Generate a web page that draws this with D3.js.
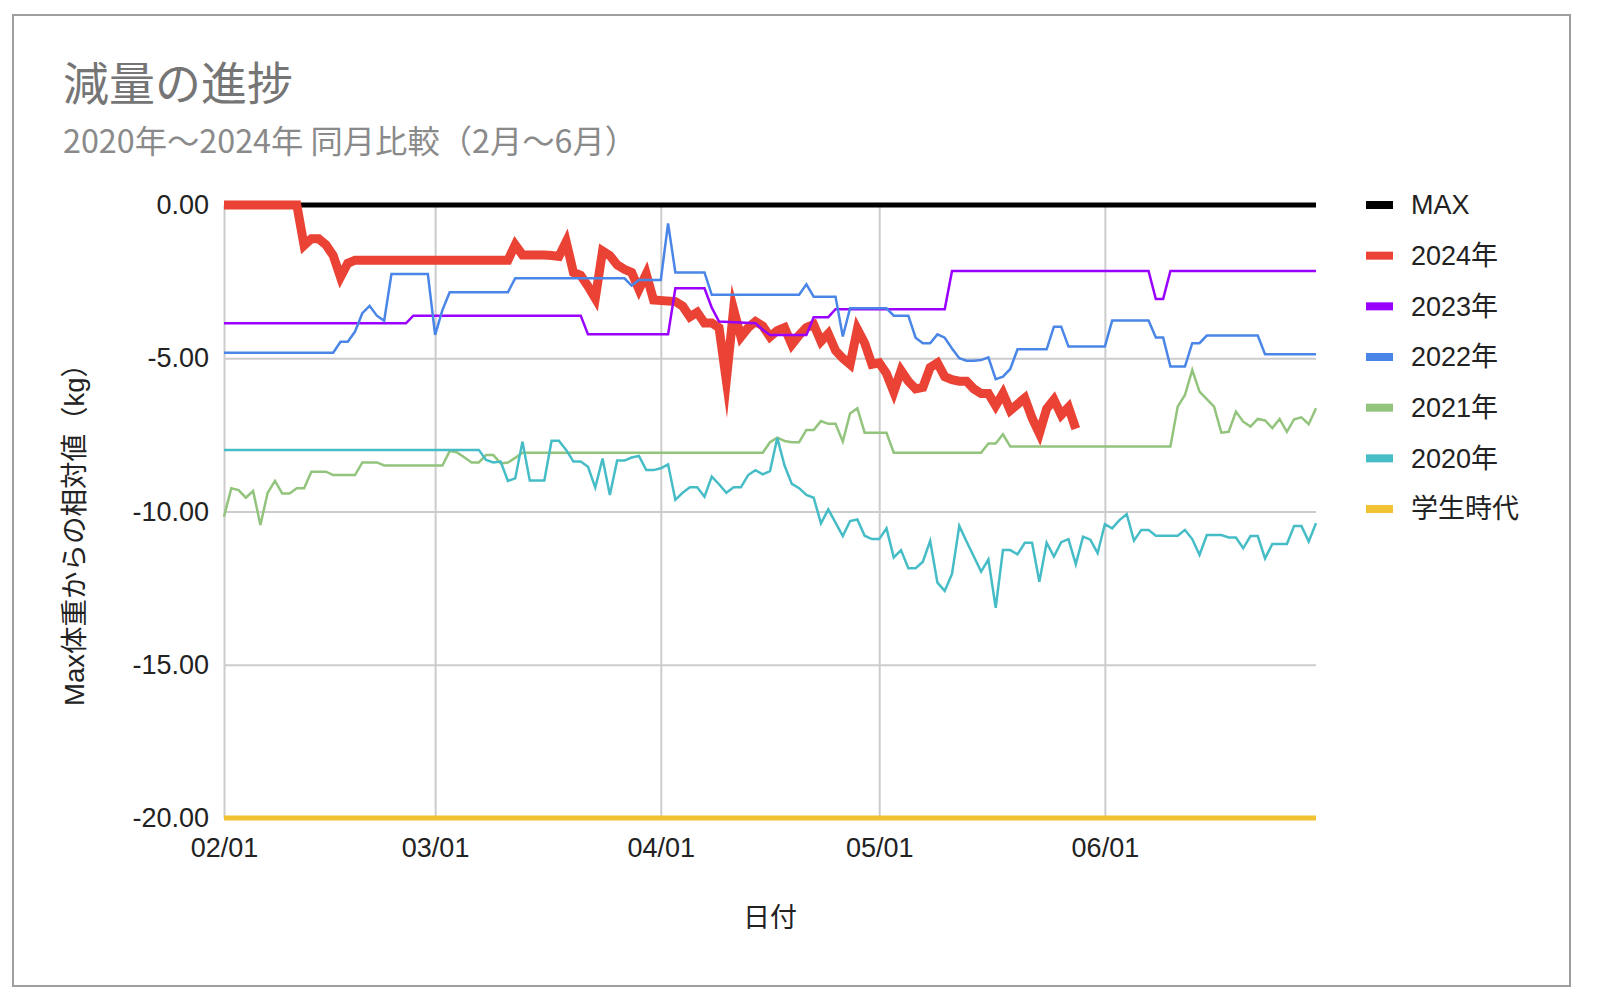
<!DOCTYPE html>
<html>
<head>
<meta charset="utf-8">
<script src="https://cdn.jsdelivr.net/npm/d3@7"></script>
<style>
    body { margin: 0; background: #ffffff; }
    svg text { font-family: "Liberation Sans", "Noto Sans CJK JP", sans-serif; }
</style>
</head>
<body>
<div id="chart-location"></div>
<script>
var titleText = "減量の進捗";
var subtitleText = "2020年～2024年 同月比較（2月～6月）";
var xTitle = "日付";
var yTitle = "Max体重からの相対値（kg）";

var dateRange = ["02/01", "06/30"];
var xTickLabels = ["02/01", "03/01", "04/01", "05/01", "06/01"];
var yTicks = [0, -5, -10, -15, -20];

var seriesNames = ["MAX", "2024年", "2023年", "2022年", "2021年", "2020年", "学生時代"];

var valuesMax = [["02/01", 0], ["06/30", 0]];

var values2024 = [
    ["02/01", 0], ["02/11", 0], ["02/12", -1.32], ["02/13", -1.1], ["02/14", -1.1], ["02/15", -1.3],
    ["02/16", -1.65], ["02/17", -2.35], ["02/18", -1.9], ["02/19", -1.8], ["03/11", -1.8], ["03/12", -1.3],
    ["03/13", -1.63], ["03/16", -1.63], ["03/17", -1.65], ["03/18", -1.68], ["03/19", -1.2], ["03/20", -2.2],
    ["03/21", -2.3], ["03/22", -2.65], ["03/23", -3.05], ["03/24", -1.5], ["03/25", -1.65], ["03/26", -1.95],
    ["03/27", -2.1], ["03/28", -2.2], ["03/29", -2.75], ["03/30", -2.25], ["03/31", -3.1], ["04/03", -3.15],
    ["04/04", -3.3], ["04/05", -3.65], ["04/06", -3.5], ["04/07", -3.85], ["04/08", -3.85], ["04/09", -4.0],
    ["04/10", -5.72], ["04/11", -3.4], ["04/12", -4.3], ["04/13", -4.0], ["04/14", -3.8], ["04/15", -3.95],
    ["04/16", -4.3], ["04/17", -4.1], ["04/18", -4.0], ["04/19", -4.55], ["04/20", -4.25], ["04/21", -4.0],
    ["04/22", -3.9], ["04/23", -4.45], ["04/24", -4.2], ["04/25", -4.75], ["04/26", -5.0], ["04/27", -5.2],
    ["04/28", -4.05], ["04/29", -4.5], ["04/30", -5.2], ["05/01", -5.15], ["05/02", -5.5], ["05/03", -6.1],
    ["05/04", -5.4], ["05/05", -5.75], ["05/06", -6.0], ["05/07", -5.95], ["05/08", -5.3], ["05/09", -5.15],
    ["05/10", -5.6], ["05/11", -5.7], ["05/12", -5.75], ["05/13", -5.75], ["05/14", -6.0], ["05/15", -6.15],
    ["05/16", -6.15], ["05/17", -6.55], ["05/18", -6.15], ["05/19", -6.7], ["05/20", -6.5], ["05/21", -6.3],
    ["05/22", -6.95], ["05/23", -7.45], ["05/24", -6.65], ["05/25", -6.35], ["05/26", -6.85], ["05/27", -6.6],
    ["05/28", -7.3]
];

var values2023 = [
    ["02/01", -3.86], ["02/26", -3.86], ["02/27", -3.61], ["03/21", -3.61], ["03/22", -4.22], ["04/02", -4.22],
    ["04/03", -2.72], ["04/07", -2.72], ["04/08", -3.35], ["04/09", -3.8], ["04/14", -3.86], ["04/15", -4.07],
    ["04/16", -4.24], ["04/21", -4.24], ["04/22", -3.66], ["04/24", -3.66], ["04/25", -3.4], ["05/10", -3.4],
    ["05/11", -2.15], ["06/07", -2.15], ["06/08", -3.07], ["06/09", -3.07], ["06/10", -2.15], ["06/30", -2.15]
];

var values2022 = [
    ["02/01", -4.82], ["02/16", -4.82], ["02/17", -4.46], ["02/18", -4.46], ["02/19", -4.13], ["02/20", -3.53],
    ["02/21", -3.29], ["02/22", -3.61], ["02/23", -3.78], ["02/24", -2.25], ["02/29", -2.25], ["03/01", -4.24],
    ["03/02", -3.43], ["03/03", -2.85], ["03/11", -2.85], ["03/12", -2.39], ["03/27", -2.39], ["03/28", -2.63],
    ["03/29", -2.45], ["04/01", -2.45], ["04/02", -0.6], ["04/03", -2.2], ["04/07", -2.2], ["04/08", -2.93],
    ["04/20", -2.93], ["04/21", -2.59], ["04/22", -2.99], ["04/25", -2.99], ["04/26", -4.29], ["04/27", -3.37],
    ["05/02", -3.37], ["05/03", -3.61], ["05/05", -3.61], ["05/06", -4.33], ["05/07", -4.51], ["05/08", -4.51],
    ["05/09", -4.22], ["05/10", -4.33], ["05/11", -4.68], ["05/12", -5.0], ["05/13", -5.08], ["05/14", -5.08],
    ["05/15", -5.06], ["05/16", -4.97], ["05/17", -5.68], ["05/18", -5.6], ["05/19", -5.35], ["05/20", -4.71],
    ["05/24", -4.71], ["05/25", -3.97], ["05/26", -3.97], ["05/27", -4.62], ["06/01", -4.62], ["06/02", -3.77],
    ["06/07", -3.77], ["06/08", -4.32], ["06/09", -4.32], ["06/10", -5.27], ["06/12", -5.27], ["06/13", -4.51],
    ["06/14", -4.51], ["06/15", -4.26], ["06/22", -4.26], ["06/23", -4.87], ["06/30", -4.87]
];

var values2021 = [
    ["02/01", -10.17], ["02/02", -9.24], ["02/03", -9.3], ["02/04", -9.55], ["02/05", -9.33], ["02/06", -10.44],
    ["02/07", -9.39], ["02/08", -9.0], ["02/09", -9.41], ["02/10", -9.41], ["02/11", -9.24], ["02/12", -9.24],
    ["02/13", -8.7], ["02/15", -8.7], ["02/16", -8.81], ["02/19", -8.81], ["02/20", -8.4], ["02/22", -8.4],
    ["02/23", -8.5], ["03/02", -8.5], ["03/03", -8.03], ["03/04", -8.07], ["03/05", -8.23], ["03/06", -8.4],
    ["03/07", -8.4], ["03/08", -8.16], ["03/09", -8.16], ["03/10", -8.43], ["03/11", -8.4], ["03/12", -8.25],
    ["03/13", -8.08], ["04/15", -8.08], ["04/16", -7.74], ["04/17", -7.59], ["04/18", -7.7], ["04/19", -7.74],
    ["04/20", -7.74], ["04/21", -7.34], ["04/22", -7.34], ["04/23", -7.05], ["04/24", -7.14], ["04/25", -7.14],
    ["04/26", -7.72], ["04/27", -6.8], ["04/28", -6.63], ["04/29", -7.43], ["05/02", -7.43], ["05/03", -8.08],
    ["05/15", -8.08], ["05/16", -7.78], ["05/17", -7.78], ["05/18", -7.48], ["05/19", -7.88], ["06/10", -7.88],
    ["06/11", -6.58], ["06/12", -6.2], ["06/13", -5.38], ["06/14", -6.09], ["06/15", -6.33], ["06/16", -6.58],
    ["06/17", -7.43], ["06/18", -7.4], ["06/19", -6.74], ["06/20", -7.07], ["06/21", -7.23], ["06/22", -6.98],
    ["06/23", -7.03], ["06/24", -7.28], ["06/25", -6.98], ["06/26", -7.4], ["06/27", -6.99], ["06/28", -6.93],
    ["06/29", -7.15], ["06/30", -6.63]
];

var values2020 = [
    ["02/01", -7.99], ["03/07", -7.99], ["03/08", -8.32], ["03/09", -8.4], ["03/10", -8.37], ["03/11", -9.0],
    ["03/12", -8.92], ["03/13", -7.72], ["03/14", -8.99], ["03/16", -8.99], ["03/17", -7.69], ["03/18", -7.69],
    ["03/19", -7.99], ["03/20", -8.37], ["03/21", -8.37], ["03/22", -8.54], ["03/23", -9.22], ["03/24", -8.27],
    ["03/25", -9.46], ["03/26", -8.34], ["03/27", -8.34], ["03/28", -8.24], ["03/29", -8.19], ["03/30", -8.65],
    ["03/31", -8.65], ["04/01", -8.59], ["04/02", -8.46], ["04/03", -9.62], ["04/04", -9.39], ["04/05", -9.21],
    ["04/06", -9.21], ["04/07", -9.52], ["04/08", -8.86], ["04/09", -9.11], ["04/10", -9.39], ["04/11", -9.21],
    ["04/12", -9.21], ["04/13", -8.81], ["04/14", -8.65], ["04/15", -8.79], ["04/16", -8.68], ["04/17", -7.6],
    ["04/18", -8.5], ["04/19", -9.1], ["04/20", -9.24], ["04/21", -9.46], ["04/22", -9.55], ["04/23", -10.39],
    ["04/24", -9.93], ["04/25", -10.36], ["04/26", -10.8], ["04/27", -10.31], ["04/28", -10.26], ["04/29", -10.79],
    ["04/30", -10.9], ["05/01", -10.9], ["05/02", -10.55], ["05/03", -11.5], ["05/04", -11.26], ["05/05", -11.85],
    ["05/06", -11.85], ["05/07", -11.64], ["05/08", -10.96], ["05/09", -12.32], ["05/10", -12.59], ["05/11", -12.04],
    ["05/12", -10.47], ["05/13", -10.98], ["05/14", -11.47], ["05/15", -11.96], ["05/16", -11.56], ["05/17", -13.14],
    ["05/18", -11.26], ["05/19", -11.26], ["05/20", -11.4], ["05/21", -11.02], ["05/22", -11.02], ["05/23", -12.29],
    ["05/24", -11.02], ["05/25", -11.47], ["05/26", -11.0], ["05/27", -10.9], ["05/28", -11.72], ["05/29", -10.82],
    ["05/30", -10.92], ["05/31", -11.36], ["06/01", -10.41], ["06/02", -10.55], ["06/03", -10.28], ["06/04", -10.09],
    ["06/05", -10.95], ["06/06", -10.6], ["06/07", -10.6], ["06/08", -10.79], ["06/11", -10.79], ["06/12", -10.6],
    ["06/13", -10.9], ["06/14", -11.42], ["06/15", -10.77], ["06/17", -10.77], ["06/18", -10.85], ["06/19", -10.85],
    ["06/20", -11.2], ["06/21", -10.8], ["06/22", -10.8], ["06/23", -11.53], ["06/24", -11.06], ["06/26", -11.06],
    ["06/27", -10.47], ["06/28", -10.47], ["06/29", -10.98], ["06/30", -10.38]
];

var valuesStudent = [["02/01", -20], ["06/30", -20]];

function init () {

    // (VARIABLES) svg size and plot area
    var w = 1598;
    var h = 1002;
    var plotLeft = 224;
    var plotRight = 1316;
    var plotTop = 205;
    var plotBottom = 818;
    var fontSize = 27;
    var textColor = "#222222";
    var gridColor = "#cccccc";

    // series styles, same order as seriesNames
    var seriesData = [valuesMax, values2024, values2023, values2022, values2021, values2020, valuesStudent];
    var seriesColors = ["#000000", "#ea4335", "#9900ff", "#4a86e8", "#93c47d", "#46bdc6", "#f1c232"];
    var seriesWidths = [5, 9, 2.5, 2.5, 2.5, 2.5, 5];
    // the thick 2024 line keeps its sharp pointed spikes
    var seriesMiter = [4, 12, 4, 4, 4, 4, 4];

    var parseDay = d3.timeParse("%Y/%m/%d");
    function toDate(s) {
        return parseDay("2024/" + s);
    }

    // (SCALES)
    var xScale = d3.scaleTime()
        .domain(dateRange.map(toDate))
        .range([plotLeft, plotRight]);

    var yScale = d3.scaleLinear()
        .domain([-20, 0])
        .range([plotBottom, plotTop]);

    // (SVG CANVAS)
    var svg = d3.select("#chart-location")
        .append("svg")
        .attr("width", w)
        .attr("height", h);

    // outer frame of the chart
    svg.append("rect")
        .attr("x", 13)
        .attr("y", 15)
        .attr("width", 1557)
        .attr("height", 971)
        .attr("fill", "#ffffff")
        .attr("stroke", "#9e9e9e")
        .attr("stroke-width", 2);

    // (TITLES)
    svg.append("text")
        .attr("x", 63)
        .attr("y", 100)
        .attr("font-size", 46)
        .attr("fill", "#757575")
        .style("font-family", "'Noto Sans CJK JP', sans-serif")
        .text(titleText);

    svg.append("text")
        .attr("x", 63)
        .attr("y", 153)
        .attr("font-size", 32.3)
        .attr("fill", "#8a8a8a")
        .style("font-family", "'Noto Sans CJK JP', sans-serif")
        .text(subtitleText);

    // (GRID) vertical lines at month starts
    var xGrid = d3.axisBottom(xScale)
        .tickValues(xTickLabels.map(toDate))
        .tickSize(-(plotBottom - plotTop))
        .tickFormat("");
    var xGridG = svg.append("g")
        .attr("transform", "translate(0," + plotBottom + ")")
        .call(xGrid);
    xGridG.select(".domain").remove();
    xGridG.selectAll("line").attr("stroke", gridColor).attr("stroke-width", 2);

    // (GRID) horizontal lines
    var yGrid = d3.axisLeft(yScale)
        .tickValues(yTicks)
        .tickSize(-(plotRight - plotLeft))
        .tickFormat("");
    var yGridG = svg.append("g")
        .attr("transform", "translate(" + plotLeft + ",0)")
        .call(yGrid);
    yGridG.select(".domain").remove();
    yGridG.selectAll("line").attr("stroke", gridColor).attr("stroke-width", 2);

    // (X-AXIS) labels only
    var xAxis = d3.axisBottom(xScale)
        .tickValues(xTickLabels.map(toDate))
        .tickSize(0)
        .tickPadding(20)
        .tickFormat(d3.timeFormat("%m/%d"));
    var xAxisG = svg.append("g")
        .attr("transform", "translate(0," + plotBottom + ")")
        .call(xAxis);
    xAxisG.select(".domain").remove();
    xAxisG.attr("font-family", null).attr("font-size", fontSize);
    xAxisG.selectAll("text").attr("fill", textColor);

    // (Y-AXIS) labels only, plain hyphen for the minus sign
    var yAxis = d3.axisLeft(yScale)
        .tickValues(yTicks)
        .tickSize(0)
        .tickPadding(15)
        .tickFormat(function(d) { return d.toFixed(2); });
    var yAxisG = svg.append("g")
        .attr("transform", "translate(" + plotLeft + ",0)")
        .call(yAxis);
    yAxisG.select(".domain").remove();
    yAxisG.attr("font-family", null).attr("font-size", fontSize);
    yAxisG.selectAll("text").attr("fill", textColor);

    // (AXIS TITLES)
    svg.append("text")
        .attr("x", (plotLeft + plotRight) / 2)
        .attr("y", 927)
        .attr("text-anchor", "middle")
        .attr("font-size", fontSize)
        .attr("fill", textColor)
        .text(xTitle);

    svg.append("text")
        .attr("transform", "translate(74,528) rotate(-90)")
        .attr("text-anchor", "middle")
        .attr("dominant-baseline", "central")
        .attr("font-size", 27.5)
        .attr("fill", textColor)
        .text(yTitle);

    // (LINES) drawn in legend order so later series sit on top
    var line = d3.line()
        .x(function(d) { return xScale(toDate(d[0])); })
        .y(function(d) { return yScale(d[1]); });

    seriesData.forEach(function(values, i) {
        svg.append("path")
            .datum(values)
            .attr("fill", "none")
            .attr("stroke", seriesColors[i])
            .attr("stroke-width", seriesWidths[i])
            .attr("stroke-linejoin", "miter")
            .attr("stroke-miterlimit", seriesMiter[i])
            .attr("d", line);
    });

    // (LEGEND)
    var legend = svg.append("g")
        .attr("transform", "translate(1366,205)");

    var items = legend.selectAll("g")
        .data(seriesNames)
        .enter()
        .append("g")
        .attr("transform", function(d, i) { return "translate(0," + (i * 50.67) + ")"; });

    items.append("rect")
        .attr("x", 0)
        .attr("y", -4)
        .attr("width", 27)
        .attr("height", 8)
        .attr("fill", function(d, i) { return seriesColors[i]; });

    items.append("text")
        .attr("x", 45)
        .attr("y", 0)
        .attr("dy", "0.35em")
        .attr("font-size", fontSize)
        .attr("fill", textColor)
        .text(function(d) { return d; });
}

window.onload = init;
</script>
</body>
</html>
